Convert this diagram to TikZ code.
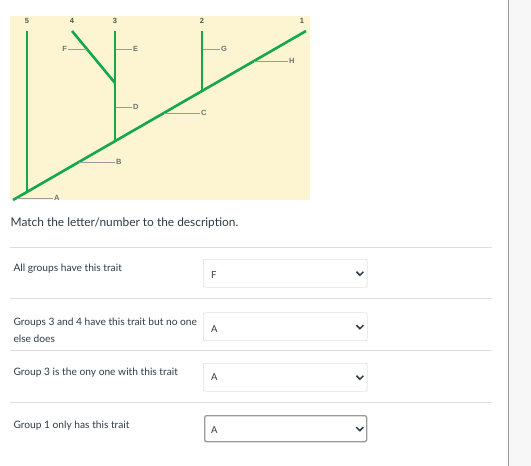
\documentclass[tikz,border=0pt]{standalone}
\usepackage{fontspec}
\setmainfont{Lato}
\newfontfamily\treefont{Liberation Sans}
\usetikzlibrary{positioning}
\definecolor{treebg}{HTML}{FDF5D2}
\definecolor{branchgreen}{HTML}{14A84B}
\definecolor{tickgray}{HTML}{9C9C94}
\definecolor{labelgray}{HTML}{707070}
\definecolor{numgray}{HTML}{555555}
\definecolor{rulegray}{HTML}{DDDDDD}
\definecolor{boxgray}{HTML}{CBCBCB}
\definecolor{textdark}{HTML}{2D3B45}
\definecolor{sidegray}{HTML}{9A9A9A}

\begin{document}
\begin{tikzpicture}[x=1pt,y=-1pt,
  branch/.style={draw=branchgreen, line width=2.6pt},
  tick/.style={draw=tickgray, line width=0.9pt},
  trait/.style={font=\treefont\bfseries\fontsize{7.5}{8}\selectfont, text=labelgray, inner sep=0.8pt},
  group/.style={font=\treefont\bfseries\fontsize{7.5}{8}\selectfont, text=numgray, inner sep=0.5pt},
  question/.style={font=\fontsize{10.2}{17.3}\selectfont, text=textdark, anchor=base west, inner sep=0pt, align=left},
  answer/.style={draw=boxgray, fill=white, rounded corners=2pt, minimum width=164pt, minimum height=28pt, anchor=north west, inner sep=0pt},
  choice/.style={font=\fontsize{9.5}{10}\selectfont, text=textdark, anchor=base west, inner sep=0pt},
  chevron/.style={draw=textdark, line width=1.5pt}]
\useasboundingbox (0,0) rectangle (531,466);
\fill[white!97!black] (508,0) rectangle (531,466);
\draw[sidegray, line width=0.9pt] (508,0) -- (508,466);

\fill[treebg] (10,16) rectangle (310,200);
\coordinate (root) at (13,200);
\coordinate (top1) at (306,31);
\coordinate (top2) at (202,31);
\coordinate (top3) at (115,31);
\coordinate (top4) at (72,31);
\coordinate (top5) at (27,31);
\coordinate (fork2) at (202,91);
\coordinate (fork3) at (115,141);
\coordinate (fork4) at (115,83);
\coordinate (fork5) at (27,192);
\draw[branch] (root) -- (top1);
\draw[branch] (fork5) -- (top5);
\draw[branch] (fork3) -- (top3);
\draw[branch] (fork4) -- (top4);
\draw[branch] (fork2) -- (top2);

\node[group] (g5) at (27,21) {5};
\node[group] (g4) at (72,21) {4};
\node[group] (g3) at (115,21) {3};
\node[group] (g2) at (202,21) {2};
\node[group] (g1) at (302,21) {1};

\coordinate (tA) at (16.5,198);
\coordinate (tB) at (79,162);
\coordinate (tC) at (164,113);
\coordinate (tD) at (116,107);
\coordinate (tE) at (116,49);
\coordinate (tF) at (87,49);
\coordinate (tG) at (203,49);
\coordinate (tH) at (254,61);
\node[trait, anchor=west] (A) at (53,198) {A};
\node[trait, anchor=west] (B) at (115,162) {B};
\node[trait, anchor=west] (C) at (200,113) {C};
\node[trait, anchor=west] (D) at (132,107) {D};
\node[trait, anchor=west] (E) at (132,49) {E};
\node[trait, anchor=east] (F) at (68,49) {F};
\node[trait, anchor=west] (G) at (220,49) {G};
\node[trait, anchor=west] (H) at (288,61) {H};
\draw[tick] (tA) -- (A.west);
\draw[tick] (tB) -- (B.west);
\draw[tick] (tC) -- (C.west);
\draw[tick] (tD) -- (D.west);
\draw[tick] (tE) -- (E.west);
\draw[tick] (F.east) -- (tF);
\draw[tick] (tG) -- (G.west);
\draw[tick] (tH) -- (H.west);

\node[question, font=\fontsize{11.9}{14}\selectfont] (intro) at (10.5,226.7) {Match the letter/number to the description.};
\draw[rulegray, line width=0.9pt] (10,247) -- (492,247);
\draw[rulegray, line width=0.9pt] (10,298) -- (492,298);
\draw[rulegray, line width=0.9pt] (10,350) -- (492,350);
\draw[rulegray, line width=0.9pt] (10,402) -- (492,402);

\node[question] (q1) at (13.3,271.7) {All groups have this trait};
\node[answer] (b1) at (203,259) {};
\node[choice] (c1) at (211,278) {F};
\draw[chevron] ([xshift=-11pt,yshift=1.5pt]b1.east) -- ++(3.5,3.5) -- ++(3.5,-3.5);

\node[question] (q2) at (13.3,342.3) {Groups 3 and 4 have this trait but no one\\else does};
\node[answer] (b2) at (203,312.5) {};
\node[choice] (c2) at (211,332) {A};
\draw[chevron] ([xshift=-11pt,yshift=1.5pt]b2.east) -- ++(3.5,3.5) -- ++(3.5,-3.5);

\node[question] (q3) at (13.3,375.5) {Group 3 is the ony one with this trait};
\node[answer] (b3) at (203,363) {};
\node[choice] (c3) at (211,380.5) {A};
\draw[chevron] ([xshift=-11pt,yshift=1.5pt]b3.east) -- ++(3.5,3.5) -- ++(3.5,-3.5);

\node[question] (q4) at (13.3,428) {Group 1 only has this trait};
\node[answer, draw=sidegray, line width=1.3pt, minimum width=162pt, minimum height=26pt] (b4) at (204,415) {};
\node[choice] (c4) at (211,433) {A};
\draw[chevron] ([xshift=-11pt,yshift=1.5pt]b4.east) -- ++(3.5,3.5) -- ++(3.5,-3.5);
\end{tikzpicture}
\end{document}
